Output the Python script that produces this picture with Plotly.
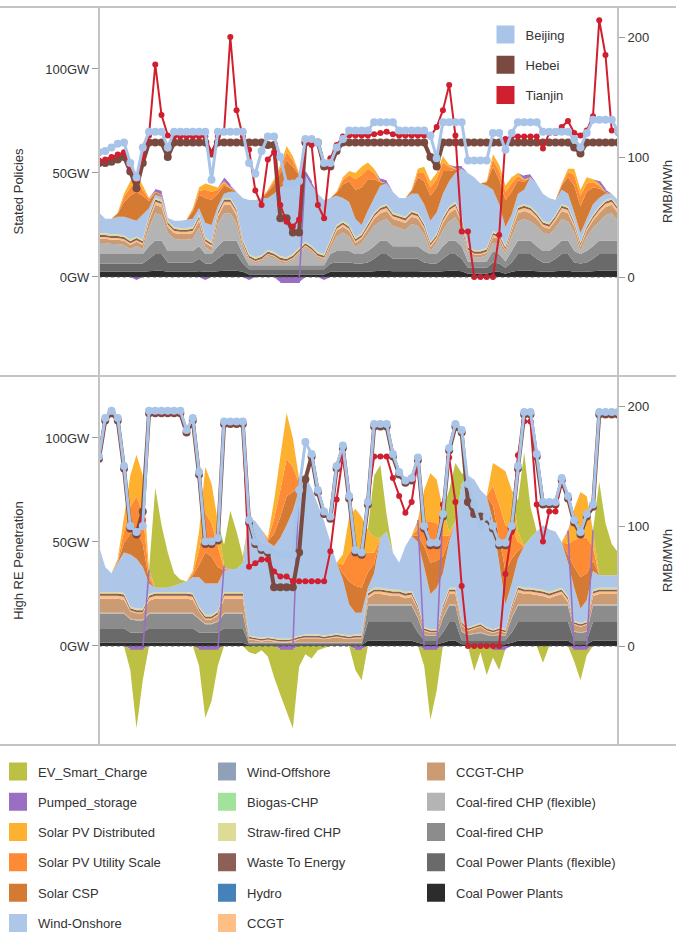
import numpy as np
import plotly.graph_objects as go
from plotly.subplots import make_subplots

# one week, two-hour steps
hours = list(range(0, 168, 2))

# ---------------- Stated Policies: dispatch (GW) ----------------
sp_coal = [
    2.5, 2.5, 2.5, 2.5, 2.5, 2.5, 2.5, 2.5, 2.8, 3.0, 3.0, 2.5,
    2.5, 2.5, 2.5, 2.5, 2.8, 2.5, 2.5, 2.8, 3.0, 3.0, 3.0, 2.5,
    1.2, 1.2, 1.2, 1.2, 1.2, 1.2, 1.2, 1.2, 1.2, 1.2, 1.2, 1.2,
    1.2, 2.5, 2.5, 2.5, 2.5, 2.5, 2.5, 2.5, 2.8, 3.0, 3.0, 2.8,
    2.8, 2.8, 2.8, 2.8, 2.5, 2.5, 2.5, 2.8, 3.0, 3.0, 2.8, 1.5,
    1.5, 1.5, 1.5, 2.5, 2.5, 1.5, 2.5, 3.0, 3.0, 3.0, 2.8, 2.5,
    2.5, 2.8, 3.0, 3.0, 2.5, 2.5, 2.5, 2.8, 3.0, 3.0, 3.0, 3.0]
sp_coal_flex = [
    4.0, 4.0, 4.0, 4.0, 4.0, 4.0, 4.0, 4.0, 6.0, 8.0, 8.0, 4.5,
    4.5, 4.5, 4.5, 4.5, 6.0, 4.0, 4.0, 6.0, 8.0, 8.0, 8.0, 4.0,
    2.5, 2.5, 2.5, 2.5, 2.5, 2.5, 2.5, 2.5, 2.5, 2.5, 2.5, 2.5,
    2.5, 4.0, 4.5, 4.5, 4.5, 4.0, 4.0, 4.5, 6.0, 8.0, 8.0, 6.0,
    6.0, 6.0, 6.0, 6.0, 4.5, 4.0, 4.0, 6.0, 8.0, 8.0, 6.0, 3.0,
    3.0, 3.0, 3.0, 4.5, 4.0, 3.0, 4.5, 8.0, 8.0, 8.0, 6.0, 4.5,
    4.5, 6.0, 8.0, 8.0, 4.5, 4.0, 4.5, 6.0, 8.0, 8.0, 8.0, 8.0]
sp_chp = [
    4.5, 4.5, 4.5, 4.5, 4.5, 4.5, 4.5, 4.5, 6.0, 6.5, 6.5, 5.5,
    5.5, 5.5, 5.5, 5.5, 6.0, 4.5, 4.5, 6.0, 6.5, 6.5, 6.5, 4.5,
    2.0, 2.0, 2.0, 2.0, 2.0, 2.0, 2.0, 2.0, 2.0, 2.0, 2.0, 2.0,
    2.0, 4.5, 5.5, 5.5, 5.5, 4.5, 4.5, 5.5, 6.0, 6.5, 6.5, 6.0,
    6.0, 6.0, 6.0, 6.0, 5.5, 4.5, 4.5, 6.0, 6.5, 6.5, 6.0, 3.0,
    3.0, 3.0, 3.0, 5.5, 4.5, 3.0, 5.5, 6.5, 6.5, 6.5, 6.0, 5.5,
    5.5, 6.0, 6.5, 6.5, 5.5, 4.5, 5.5, 6.0, 6.5, 6.5, 6.5, 6.5]
sp_chp_flex = [
    5.4, 5.4, 4.9, 4.9, 4.4, 2.4, 3.9, 2.4, 8.7, 13.2, 12.2, 8.9,
    5.9, 5.4, 5.4, 5.9, 8.7, 3.4, 1.4, 10.7, 13.2, 13.2, 8.2, 2.4,
    2.3, 0.8, 1.8, 4.3, 3.3, 1.3, 0.8, 2.3, 5.3, 8.3, 6.3, 3.3,
    2.3, 2.4, 6.9, 8.9, 6.9, 3.4, 5.4, 7.9, 9.7, 9.2, 10.2, 9.7,
    8.7, 7.7, 10.7, 9.7, 7.9, 1.4, 5.4, 7.7, 9.2, 11.2, 7.7, 4.0,
    2.0, 2.0, 3.0, 3.9, 5.4, 4.0, 6.9, 9.2, 10.2, 9.2, 9.7, 8.9,
    7.9, 8.7, 10.2, 9.2, 8.9, 1.4, 6.9, 8.7, 9.2, 12.2, 13.2, 9.2]
sp_ccgt_chp = [
    2.0, 2.0, 2.0, 2.0, 2.0, 2.0, 2.0, 2.0, 3.5, 4.0, 4.0, 2.8,
    2.8, 2.8, 2.8, 2.8, 3.5, 2.0, 2.0, 3.5, 4.0, 4.0, 4.0, 2.0,
    0.8, 0.8, 0.8, 0.8, 0.8, 0.8, 0.8, 0.8, 0.8, 0.8, 0.8, 0.8,
    0.8, 2.0, 2.8, 2.8, 2.8, 2.0, 2.0, 2.8, 3.5, 4.0, 4.0, 3.5,
    3.5, 3.5, 3.5, 3.5, 2.8, 2.0, 2.0, 3.5, 4.0, 4.0, 3.5, 1.2,
    1.2, 1.2, 1.2, 2.8, 2.0, 1.2, 2.8, 4.0, 4.0, 4.0, 3.5, 2.8,
    2.8, 3.5, 4.0, 4.0, 2.8, 2.0, 2.8, 3.5, 4.0, 4.0, 4.0, 4.0]
sp_ccgt = [
    0.8, 0.8, 0.8, 0.8, 0.8, 0.8, 0.8, 0.8, 1.2, 1.5, 1.5, 1.0,
    1.0, 1.0, 1.0, 1.0, 1.2, 0.8, 0.8, 1.2, 1.5, 1.5, 1.5, 0.8,
    0.4, 0.4, 0.4, 0.4, 0.4, 0.4, 0.4, 0.4, 0.4, 0.4, 0.4, 0.4,
    0.4, 0.8, 1.0, 1.0, 1.0, 0.8, 0.8, 1.0, 1.2, 1.5, 1.5, 1.2,
    1.2, 1.2, 1.2, 1.2, 1.0, 0.8, 0.8, 1.2, 1.5, 1.5, 1.2, 0.5,
    0.5, 0.5, 0.5, 1.0, 0.8, 0.5, 1.0, 1.5, 1.5, 1.5, 1.2, 1.0,
    1.0, 1.2, 1.5, 1.5, 1.0, 0.8, 1.0, 1.2, 1.5, 1.5, 1.5, 1.5]
sp_waste = [
    1.0, 1.0, 1.0, 1.0, 1.0, 1.0, 1.0, 1.0, 1.0, 1.0, 1.0, 1.0,
    1.0, 1.0, 1.0, 1.0, 1.0, 1.0, 1.0, 1.0, 1.0, 1.0, 1.0, 1.0,
    1.0, 1.0, 1.0, 1.0, 1.0, 1.0, 1.0, 1.0, 1.0, 1.0, 1.0, 1.0,
    1.0, 1.0, 1.0, 1.0, 1.0, 1.0, 1.0, 1.0, 1.0, 1.0, 1.0, 1.0,
    1.0, 1.0, 1.0, 1.0, 1.0, 1.0, 1.0, 1.0, 1.0, 1.0, 1.0, 1.0,
    1.0, 1.0, 1.0, 1.0, 1.0, 1.0, 1.0, 1.0, 1.0, 1.0, 1.0, 1.0,
    1.0, 1.0, 1.0, 1.0, 1.0, 1.0, 1.0, 1.0, 1.0, 1.0, 1.0, 1.0]
sp_straw = [
    0.8, 0.8, 0.8, 0.8, 0.8, 0.8, 0.8, 0.8, 0.8, 0.8, 0.8, 0.8,
    0.8, 0.8, 0.8, 0.8, 0.8, 0.8, 0.8, 0.8, 0.8, 0.8, 0.8, 0.8,
    0.8, 0.8, 0.8, 0.8, 0.8, 0.8, 0.8, 0.8, 0.8, 0.8, 0.8, 0.8,
    0.8, 0.8, 0.8, 0.8, 0.8, 0.8, 0.8, 0.8, 0.8, 0.8, 0.8, 0.8,
    0.8, 0.8, 0.8, 0.8, 0.8, 0.8, 0.8, 0.8, 0.8, 0.8, 0.8, 0.8,
    0.8, 0.8, 0.8, 0.8, 0.8, 0.8, 0.8, 0.8, 0.8, 0.8, 0.8, 0.8,
    0.8, 0.8, 0.8, 0.8, 0.8, 0.8, 0.8, 0.8, 0.8, 0.8, 0.8, 0.8]
sp_wind_on = [
    10, 7, 7.5, 8.5, 9, 10, 7.5, 12, 3, 1.5, 1.5, 1.5,
    3, 3.5, 4, 4, 3, 7, 8, 2, 2, 3, 8, 20,
    26, 27.5, 27.5, 25, 28, 33, 35.5, 33, 32, 32, 29, 28,
    26, 20, 14, 11, 11, 9, 4, 6, 7, 10, 10, 10,
    8, 9, 8, 9, 9, 10, 10, 11, 12, 14, 23, 35,
    35, 32, 30, 20, 14, 9, 5, 6, 7, 14, 14, 13,
    12, 7, 7, 6, 4, 4, 3, 5, 4, 3, 2, 3]
sp_csp = [
    0, 0, 0, 1.5, 7, 11, 14, 9, 3.5, 1.2, 0.8, 0,
    0, 0, 0, 3.5, 6.5, 12, 12, 6, 4, 1.5, 0, 0,
    0, 0, 0, 3, 4.5, 7, 11, 9, 3, 0, 0, 0,
    0, 0, 1.5, 6.5, 10, 14, 18, 15, 9, 1.5, 0, 0,
    0, 0, 1.5, 8, 11, 12, 12, 11, 5, 1.5, 0, 0,
    0, 0, 1.5, 11, 12, 13, 11, 6.5, 3.5, 0, 0, 0,
    0, 0, 2, 8, 13, 13, 13, 8, 4.5, 0.8, 0, 0]
sp_pv_util = [
    0, 0, 0, 0.3, 2.5, 4, 5, 3, 1, 0.2, 0.1, 0,
    0, 0, 0, 1, 2, 4, 4, 2, 1.2, 0.3, 0, 0,
    0, 0, 0, 0.6, 1.5, 2.5, 4, 3, 0.6, 0, 0, 0,
    0, 0, 0.3, 2, 3, 5, 6, 5, 3, 0.3, 0, 0,
    0, 0, 0.3, 2.5, 4, 4, 4, 4, 2, 0.3, 0, 0,
    0, 0, 0.3, 3.5, 4, 4, 4, 2, 1, 0, 0, 0,
    0, 0, 0.6, 2.5, 5, 5, 4, 2.5, 1.5, 0.1, 0, 0]
sp_pv_dist = [
    0, 0, 0, 0.2, 1.5, 3, 4, 2, 0.5, 0.1, 0.1, 0,
    0, 0, 0, 0.5, 1.5, 3, 3, 1, 0.8, 0.2, 0, 0,
    0, 0, 0, 0.4, 1, 1.5, 3, 2, 0.4, 0, 0, 0,
    0, 0, 0.2, 1.5, 2, 3, 4, 3, 2, 0.2, 0, 0,
    0, 0, 0.2, 1.5, 3, 3, 3, 3, 1, 0.2, 0, 0,
    0, 0, 0.2, 2.5, 3, 3, 3, 1.5, 0.5, 0, 0, 0,
    0, 0, 0.4, 1.5, 3, 3, 3, 1.5, 1, 0.1, 0, 0]
sp_pumped = [
    0, 0, 0, 0, 0, 0, -1.5, 0, 0, 1, 1.5, 0,
    0, 0, 0, 0, 0, -1.5, 0, 0, 1.5, 1, 0, 0,
    -1.5, 0, 0, 0, 0, -2.5, -2.5, -2.5, -2.5, 1.5, 1.5, 0,
    -1.5, 0, 0, 0, 0, 0, 0, 0, 0, 1, 1, 0,
    0, 0, 0, 0, 0, 0, 0, 0, 0, 1, 1, 0,
    0, 0, 0, 0, 0, 0, 0, 0, 1.5, 1, 0, 0,
    0, 0, 0, 0, 0, 0, 0, 0, 1, 1, 0, 0]

# ---------------- High RE Penetration: dispatch (GW) ----------------
re_coal = [
    1.5, 1.5, 1.5, 1.5, 1.5, 1.5, 1.5, 1.5, 1.5, 1.5, 1.5, 1.5,
    1.5, 1.5, 1.5, 1.5, 1.5, 1.5, 1.5, 1.5, 1.5, 1.5, 1.5, 1.5,
    0.4, 0.4, 0.4, 0.4, 0.4, 0.4, 0.4, 0.4, 0.4, 0.4, 0.4, 0.4,
    0.4, 0.4, 0.4, 0.4, 0.4, 0.4, 0.4, 2.5, 2.5, 2.5, 2.5, 2.5,
    2.5, 2.5, 2.5, 1.5, 0.8, 0.8, 0.8, 1.5, 2.5, 2.5, 0.8, 0.8,
    0.8, 0.8, 0.8, 0.8, 0.8, 0.8, 1.5, 2.5, 2.5, 2.5, 2.5, 2.5,
    2.5, 2.5, 2.5, 2.5, 0.8, 0.8, 0.8, 2.5, 2.5, 2.5, 2.5, 2.5]
re_coal_flex = [
    7, 7, 7, 7, 7, 5, 5, 5, 7, 7, 7, 7,
    7, 7, 7, 7, 5, 5, 5, 5, 7, 7, 7, 7,
    0.5, 0.5, 0.5, 0.5, 0.5, 0.5, 0.5, 0.5, 0.5, 0.5, 0.5, 0.5,
    0.5, 0.5, 0.5, 0.5, 0.5, 0.5, 0.5, 9, 9, 9, 9, 9,
    9, 9, 9, 5, 2, 2, 2, 5, 9, 9, 2, 2,
    2, 2, 2, 2, 2, 2, 5, 9, 9, 9, 9, 9,
    9, 9, 9, 9, 2, 2, 2, 9, 9, 9, 9, 9]
re_chp = [
    7, 7, 7, 7, 7, 6.4, 5.8, 5.8, 7, 7, 7, 7,
    7, 7, 7, 7, 6.4, 4, 4, 5.2, 7, 7, 7, 7,
    0.6, 0.6, 0.6, 0.6, 0.6, 0.6, 0.6, 0.6, 0.6, 0.6, 0.6, 0.6,
    0.6, 0.6, 0.6, 0.6, 0.6, 0.6, 0.6, 8, 8, 8, 8, 8,
    8, 8, 8, 7, 2.5, 2, 2, 7, 8, 8, 4, 2.5,
    3, 3.5, 2.5, 2, 2.5, 2, 7, 8, 8, 8, 8, 8,
    8, 8, 8, 8, 4, 3.5, 4, 8, 8, 8, 8, 8]
re_chp_flex = [
    0.5, 0.5, 0.5, 0.5, 0.5, 0.3, 0.3, 0.3, 0.5, 0.5, 0.5, 0.5,
    0.5, 0.5, 0.5, 0.5, 0.3, 0.3, 0.3, 0.3, 0.5, 0.5, 0.5, 0.5,
    0.2, 0.2, 0.2, 0.2, 0.2, 0.2, 0.2, 0.2, 0.2, 0.2, 0.2, 0.2,
    0.2, 0.2, 0.2, 0.2, 0.2, 0.2, 0.2, 0.5, 0.5, 0.5, 0.5, 0.5,
    0.5, 0.5, 0.5, 0.3, 0.3, 0.3, 0.3, 0.3, 0.5, 0.5, 0.3, 0.3,
    0.3, 0.3, 0.3, 0.3, 0.3, 0.3, 0.3, 0.5, 0.5, 0.5, 0.5, 0.5,
    0.5, 0.5, 0.5, 0.5, 0.3, 0.3, 0.3, 0.5, 0.5, 0.5, 0.5, 0.5]
re_ccgt_chp = [
    6.7, 6.7, 6.7, 6.7, 6.2, 3.5, 3.1, 3.1, 5.7, 6.7, 6.7, 6.7,
    6.7, 6.7, 6.7, 6.2, 3.5, 1.9, 1.9, 2.7, 6.7, 6.7, 6.7, 6.7,
    1.5, 1.0, 0.5, 1.0, 0.5, 0.0, 0.0, 0.5, 1.5, 2.0, 2.0, 2.0,
    1.5, 2.0, 2.5, 2.0, 1.5, 2.0, 2.0, 3.0, 5.0, 5.0, 4.5, 4.0,
    4.0, 3.0, 3.5, 3.9, 1.6, 1.1, 1.1, 3.9, 5.0, 5.0, 3.1, 1.6,
    2.1, 2.6, 1.6, 1.1, 1.6, 1.1, 3.9, 6.0, 5.0, 5.0, 4.5, 4.0,
    3.0, 4.0, 5.0, 1.0, 3.1, 2.6, 3.1, 4.0, 5.0, 5.0, 5.0, 5.0]
re_ccgt = [
    1.5, 1.5, 1.5, 1.5, 1.5, 0.5, 0.5, 0.5, 1.5, 1.5, 1.5, 1.5,
    1.5, 1.5, 1.5, 1.5, 0.5, 0.5, 0.5, 0.5, 1.5, 1.5, 1.5, 1.5,
    0.4, 0.4, 0.4, 0.4, 0.4, 0.4, 0.4, 0.4, 0.4, 0.4, 0.4, 0.4,
    0.4, 0.4, 0.4, 0.4, 0.4, 0.4, 0.4, 1.2, 1.2, 1.2, 1.2, 1.2,
    1.2, 1.2, 1.2, 0.5, 0.4, 0.4, 0.4, 0.5, 1.2, 1.2, 0.4, 0.4,
    0.4, 0.4, 0.4, 0.4, 0.4, 0.4, 0.5, 1.2, 1.2, 1.2, 1.2, 1.2,
    1.2, 1.2, 1.2, 1.2, 0.4, 0.4, 0.4, 1.2, 1.2, 1.2, 1.2, 1.2]
re_waste = [
    1.0, 1.0, 1.0, 1.0, 1.0, 1.0, 1.0, 1.0, 1.0, 1.0, 1.0, 1.0,
    1.0, 1.0, 1.0, 1.0, 1.0, 1.0, 1.0, 1.0, 1.0, 1.0, 1.0, 1.0,
    0.8, 0.8, 0.8, 0.8, 0.8, 0.8, 0.8, 0.8, 0.8, 0.8, 0.8, 0.8,
    0.8, 0.8, 0.8, 0.8, 0.8, 0.8, 0.8, 1.0, 1.0, 1.0, 1.0, 1.0,
    1.0, 1.0, 1.0, 1.0, 0.8, 0.8, 0.8, 1.0, 1.0, 1.0, 0.8, 0.8,
    0.8, 0.8, 0.8, 0.8, 0.8, 0.8, 1.0, 1.0, 1.0, 1.0, 1.0, 1.0,
    1.0, 1.0, 1.0, 1.0, 0.8, 0.8, 0.8, 1.0, 1.0, 1.0, 1.0, 1.0]
re_straw = [
    0.8, 0.8, 0.8, 0.8, 0.8, 0.8, 0.8, 0.8, 0.8, 0.8, 0.8, 0.8,
    0.8, 0.8, 0.8, 0.8, 0.8, 0.8, 0.8, 0.8, 0.8, 0.8, 0.8, 0.8,
    0.6, 0.6, 0.6, 0.6, 0.6, 0.6, 0.6, 0.6, 0.6, 0.6, 0.6, 0.6,
    0.6, 0.6, 0.6, 0.6, 0.6, 0.6, 0.6, 0.8, 0.8, 0.8, 0.8, 0.8,
    0.8, 0.8, 0.8, 0.8, 0.6, 0.6, 0.6, 0.8, 0.8, 0.8, 0.6, 0.6,
    0.6, 0.6, 0.6, 0.6, 0.6, 0.6, 0.8, 0.8, 0.8, 0.8, 0.8, 0.8,
    0.8, 0.8, 0.8, 0.8, 0.6, 0.6, 0.6, 0.8, 0.8, 0.8, 0.8, 0.8]
re_wind_on = [
    22, 12, 9, 14, 19.5, 25, 24, 20, 5, 2, 2, 2,
    3, 4, 5, 7.5, 14, 15, 15, 13, 10, 11, 11, 14,
    57, 55.5, 52, 45.5, 44, 48.5, 54.5, 61, 70, 76.5, 70.5, 62.5,
    55, 44.5, 34, 26.5, 15, 10.5, 10.5, 2, 7, 24, 27.5, 18,
    13, 22, 26.5, 30, 29, 17, 20, 15, 22, 32, 66, 73,
    70, 64, 63, 52, 31, 12, 10, 13, 20, 24, 27.5, 31,
    30, 28, 22, 16, 16, 7, 10, 9, 6, 6, 6, 6]
re_csp = [
    0, 0, 0, 0.5, 4.5, 10, 13, 11, 1.6, 0, 0, 0,
    0, 0, 0, 0.8, 6, 15, 13, 8, 0.5, 0, 0, 0,
    0, 0, 0, 0.5, 6, 10, 14, 9, 1.5, 0, 0, 0,
    0, 0, 0, 3, 11, 13, 12, 7.5, 4.5, 0, 0, 0,
    0, 0, 0, 3, 10, 15, 13, 8, 1.5, 0, 0, 0,
    0, 0, 0, 7.5, 12, 16, 12, 3.5, 0, 0, 0, 0,
    0, 0, 0, 4, 10, 15, 13, 5, 0, 0, 0, 0]
re_pv_util = [
    0, 0, 0, 0.7, 5.5, 13, 17, 15, 2, 0, 0, 0,
    0, 0, 0, 1, 7, 19, 16, 10, 0.7, 0, 0, 0,
    0, 0, 0, 0.7, 7, 13, 18, 12, 1.5, 0, 0, 0,
    0, 0, 0, 4, 14, 17, 16, 9.5, 5.5, 0, 0, 0,
    0, 0, 0, 3, 12, 20, 18, 10, 1.5, 0, 0, 0,
    0, 0, 0, 9.5, 16, 22, 15, 4.5, 0, 0, 0, 0,
    0, 0, 0, 5, 13, 19, 17, 6.5, 0, 0, 0, 0]
re_pv_dist = [
    0, 0, 0, 0.8, 7, 15, 20, 18, 2.4, 0, 0, 0,
    0, 0, 0, 1.2, 9, 22, 19, 12, 0.8, 0, 0, 0,
    0, 0, 0, 0.8, 9, 16, 22, 14, 2, 0, 0, 0,
    0, 0, 0, 5, 17, 20, 18, 11, 7, 0, 0, 0,
    0, 0, 0, 4, 15, 23, 21, 12, 2, 0, 0, 0,
    0, 0, 0, 11, 18, 26, 18, 5, 0, 0, 0, 0,
    0, 0, 0, 6, 15, 22, 20, 7.5, 0, 0, 0, 0]
re_pumped = [
    0, 0, 0, 0, 0, -1.5, -1.5, -1.5, 0.5, 0, 0, 0,
    0, 0, 0, 0, -1.5, -1.5, -1.5, -1.5, 0.5, 0, 0, 0,
    0, 0, 0, 0, 0, -1.5, -1.5, -1.5, 0.5, 0, 0, 0,
    0, 0, 0, 0, 0, -1.5, -1.5, 0, 0, 0, 0, 0,
    0, 0, 0, 0.5, -1.5, -1.5, -1.5, 0.5, 0, 0, 0, 0,
    0, 0, 0, -1.5, -1.5, -1.5, 0, 0, 0, 0, 0, 0,
    0, 0, 0, 0.5, -1.5, -1.5, -1.5, 0.5, 0, 0, 0, 0]
re_ev = [
    0, 0, 0, 0, 0, -10, -38, -15, 0, 48, 30, 17,
    6, 2, 0, 0, -8, -33, -25, -8, 10, 28, 18, 3,
    -3, -4, -2, -5, -15, -22, -30, -38, -10, -4, -6, -2,
    -1, 0, 0, 0, 0, -10, -15, 0, 30, 35, 8, 0,
    0, 0, 0, 0, -8, -34, -20, 0, 20, 28, 5, 0,
    -12, -3, -14, -4, -10, 0, 0, 15, 45, 15, 0, -8,
    0, 0, 0, 0, -6, -15, -3, 0, 45, 25, 15, 11]

# ---------------- prices (RMB/MWh) ----------------
sp_beijing = [
    104, 105, 108, 111, 112, 95, 83, 108, 121, 121, 121, 108,
    121, 121, 121, 121, 121, 121, 81, 121, 121, 121, 121, 121,
    95, 86, 105, 117, 117, 100, 78, 78, 80, 115, 115, 112,
    95, 95, 108, 115, 122, 122, 122, 122, 129, 129, 129, 129,
    122, 122, 122, 122, 122, 118, 99, 129, 129, 129, 129, 97,
    97, 97, 97, 120, 120, 106, 120, 129, 129, 129, 129, 121,
    121, 121, 121, 121, 115, 108, 120, 131, 131, 131, 131, 121]
sp_hebei = [
    95, 95, 96, 98, 100, 88, 74, 95, 112, 112, 112, 100,
    112, 112, 112, 112, 112, 112, 103, 112, 112, 112, 112, 112,
    112, 112, 112, 110, 110, 49, 49, 37, 37, 112, 112, 112,
    92, 92, 105, 112, 112, 112, 112, 112, 112, 112, 112, 112,
    112, 112, 112, 112, 112, 100, 92, 112, 112, 112, 112, 112,
    112, 112, 112, 112, 112, 112, 112, 112, 112, 112, 112, 112,
    112, 112, 112, 112, 108, 103, 112, 112, 112, 112, 112, 112]
sp_tianjin = [
    97, 98, 100, 102, 104, 92, 81, 100, 118, 177, 135, 118,
    117, 117, 117, 117, 117, 117, 103, 117, 121, 200, 139, 117,
    106, 72, 60, 98, 104, 60, 46, 42, 48, 113, 110, 60,
    49, 99, 110, 117, 118, 118, 118, 118, 119, 120, 121, 119,
    118, 118, 118, 118, 118, 117, 125, 139, 160, 118, 38, 38,
    0, 0, 0, 0, 35, 115, 117, 117, 117, 117, 117, 107,
    120, 120, 125, 130, 120, 118, 122, 134, 214, 185, 122, 120]
re_beijing = [
    158, 190, 196, 190, 150, 100, 95, 100, 196, 196, 196, 196,
    196, 196, 180, 190, 145, 87, 87, 90, 187, 187, 187, 187,
    105, 87, 82, 80, 78, 76, 76, 76, 130, 170, 160, 130,
    112, 108, 150, 167, 125, 80, 78, 120, 185, 185, 185, 160,
    145, 138, 140, 157, 100, 86, 86, 110, 165, 185, 180, 135,
    118, 100, 108, 100, 86, 86, 100, 150, 195, 195, 160, 120,
    120, 120, 140, 125, 105, 95, 110, 118, 195, 195, 195, 195]
re_hebei = [
    156, 188, 194, 188, 148, 98, 93, 112, 194, 194, 194, 194,
    194, 194, 178, 188, 143, 85, 85, 88, 185, 185, 185, 185,
    103, 85, 80, 78, 49, 49, 49, 49, 78, 139, 158, 128,
    110, 106, 148, 165, 123, 78, 76, 118, 183, 183, 183, 158,
    143, 136, 138, 155, 98, 84, 84, 108, 163, 183, 178, 120,
    110, 108, 106, 98, 84, 84, 98, 148, 193, 193, 158, 118,
    118, 118, 138, 123, 103, 93, 108, 116, 193, 193, 193, 193]
re_tianjin = [
    157, 189, 195, 189, 149, 99, 94, 105, 195, 195, 195, 195,
    195, 195, 179, 189, 144, 86, 86, 89, 186, 186, 186, 186,
    66, 69, 72, 72, 62, 58, 58, 54, 54, 54, 54, 54,
    54, 79, 122, 158, 124, 79, 77, 121, 158, 158, 158, 140,
    125, 111, 120, 156, 99, 85, 85, 118, 157, 120, 50, 0,
    0, 0, 0, 0, 0, 60, 95, 159, 187, 187, 118, 87,
    112, 112, 139, 124, 104, 94, 109, 117, 194, 194, 194, 194]

COLORS = {
    "EV_Smart_Charge": "#bcc043",
    "Pumped_storage": "#9a6fc3",
    "Solar PV Distributed": "#fdb12e",
    "Solar PV Utility Scale": "#fd8a35",
    "Solar CSP": "#d57a33",
    "Wind-Onshore": "#aec7e8",
    "Wind-Offshore": "#8fa1b8",
    "Biogas-CHP": "#a2e29a",
    "Straw-fired CHP": "#dcdc96",
    "Waste To Energy": "#8d6057",
    "Hydro": "#4682b9",
    "CCGT": "#fdbf86",
    "CCGT-CHP": "#cb9b73",
    "Coal-fired CHP (flexible)": "#b4b4b4",
    "Coal-fired CHP": "#8c8c8c",
    "Coal Power Plants (flexible)": "#6a6a6a",
    "Coal Power Plants": "#2c2c2c",
}
PRICE_STYLE = {
    "Beijing": dict(color="#a8c4e8", width=3, size=8),
    "Hebei": dict(color="#7a4a40", width=4, size=8),
    "Tianjin": dict(color="#d01f2e", width=2, size=6),
}
FONT = "Liberation Sans, Arial, sans-serif"

fig = make_subplots(rows=2, cols=1, vertical_spacing=0,
                    specs=[[{"secondary_y": True}], [{"secondary_y": True}]])


def draw_panel(row, layers, pumped, ev, prices):
    n = len(hours)
    pumped = np.asarray(pumped, float)
    ev = np.asarray(ev, float)
    top = np.zeros(n)
    # positive generation, stacked bottom-up
    for name, vals in layers + [("Pumped_storage", np.clip(pumped, 0, None))]:
        vals = np.asarray(vals, float)
        assert len(vals) == n, name
        top = top + vals
        fig.add_trace(go.Scatter(x=hours, y=vals, stackgroup=f"up{row}", mode="none",
                                 fillcolor=COLORS[name], showlegend=False, hoverinfo="skip"),
                      row=row, col=1, secondary_y=False)
    ev_up = np.clip(ev, 0, None)
    if ev_up.any():
        fig.add_trace(go.Scatter(x=hours, y=ev_up, stackgroup=f"up{row}", mode="none",
                                 fillcolor=COLORS["EV_Smart_Charge"], showlegend=False,
                                 hoverinfo="skip"),
                      row=row, col=1, secondary_y=False)
    # storage charging below zero
    for name, vals in [("Pumped_storage", np.clip(pumped, None, 0)),
                       ("EV_Smart_Charge", np.clip(ev, None, 0))]:
        if vals.any():
            fig.add_trace(go.Scatter(x=hours, y=vals, stackgroup=f"down{row}", mode="none",
                                     fillcolor=COLORS[name], showlegend=False,
                                     hoverinfo="skip"),
                          row=row, col=1, secondary_y=False)
    # pumped storage outline
    outline = np.where(pumped > 0, top, np.where(pumped < 0, pumped, np.nan))
    fig.add_trace(go.Scatter(x=hours, y=outline, mode="lines", connectgaps=False,
                             line=dict(color=COLORS["Pumped_storage"], width=1.5),
                             showlegend=False, hoverinfo="skip"),
                  row=row, col=1, secondary_y=False)
    # regional prices
    for city in ["Hebei", "Tianjin", "Beijing"]:
        st = PRICE_STYLE[city]
        assert len(prices[city]) == n, city
        fig.add_trace(go.Scatter(x=hours, y=prices[city], mode="lines+markers",
                                 line=dict(color=st["color"], width=st["width"]),
                                 marker=dict(color=st["color"], size=st["size"]),
                                 showlegend=False, hoverinfo="skip"),
                      row=row, col=1, secondary_y=True)


draw_panel(1,
           [("Coal Power Plants", sp_coal), ("Coal Power Plants (flexible)", sp_coal_flex),
            ("Coal-fired CHP", sp_chp), ("Coal-fired CHP (flexible)", sp_chp_flex),
            ("CCGT-CHP", sp_ccgt_chp), ("CCGT", sp_ccgt), ("Waste To Energy", sp_waste),
            ("Straw-fired CHP", sp_straw), ("Wind-Onshore", sp_wind_on), ("Solar CSP", sp_csp),
            ("Solar PV Utility Scale", sp_pv_util), ("Solar PV Distributed", sp_pv_dist)],
           sp_pumped, np.zeros(len(hours)),
           {"Beijing": sp_beijing, "Hebei": sp_hebei, "Tianjin": sp_tianjin})

draw_panel(2,
           [("Coal Power Plants", re_coal), ("Coal Power Plants (flexible)", re_coal_flex),
            ("Coal-fired CHP", re_chp), ("Coal-fired CHP (flexible)", re_chp_flex),
            ("CCGT-CHP", re_ccgt_chp), ("CCGT", re_ccgt), ("Waste To Energy", re_waste),
            ("Straw-fired CHP", re_straw), ("Wind-Onshore", re_wind_on), ("Solar CSP", re_csp),
            ("Solar PV Utility Scale", re_pv_util), ("Solar PV Distributed", re_pv_dist)],
           re_pumped, re_ev,
           {"Beijing": re_beijing, "Hebei": re_hebei, "Tianjin": re_tianjin})

# ---------------- legends ----------------
def legend_entry(name, color, legend):
    fig.add_trace(go.Scatter(x=[None], y=[None], mode="markers", name=name,
                             legend=legend, legendgroup=name, hoverinfo="skip",
                             marker=dict(symbol="square", size=16, color=color,
                                         line=dict(color=color, width=2))))

for city in ["Beijing", "Hebei", "Tianjin"]:
    legend_entry(city, PRICE_STYLE[city]["color"], "legend")

columns = [
    ["EV_Smart_Charge", "Pumped_storage", "Solar PV Distributed", "Solar PV Utility Scale",
     "Solar CSP", "Wind-Onshore"],
    ["Wind-Offshore", "Biogas-CHP", "Straw-fired CHP", "Waste To Energy", "Hydro", "CCGT"],
    ["CCGT-CHP", "Coal-fired CHP (flexible)", "Coal-fired CHP",
     "Coal Power Plants (flexible)", "Coal Power Plants"],
]
for k, col in enumerate(columns):
    for name in col:
        legend_entry(name, COLORS[name], f"legend{k + 2}")

legend_common = dict(xanchor="left", yanchor="top", bgcolor="rgba(0,0,0,0)",
                     font=dict(family=FONT, size=13, color="#333333"),
                     tracegroupgap=10.4, itemclick=False, itemdoubleclick=False)

# ---------------- axes ----------------
fig.update_xaxes(domain=[0, 1], range=[0, 166], showticklabels=False, ticks="",
                 showgrid=False, zeroline=False, showline=False)
for row, title in [(1, "Stated Policies"), (2, "High RE Penetration")]:
    fig.update_yaxes(row=row, col=1, secondary_y=False, range=[-47.6, 129.8],
                     tickvals=[0, 50, 100], ticktext=["0GW", "50GW", "100GW"],
                     ticks="outside", ticklen=6, tickcolor="#9a9a9a", showgrid=False,
                     zeroline=False, showline=False,
                     title=dict(text=title, standoff=18, font=dict(size=13, color="#333333")))
    fig.update_yaxes(row=row, col=1, secondary_y=True, range=[-82.5, 225],
                     tickvals=[0, 100, 200], ticks="outside", ticklen=6, tickcolor="#9a9a9a",
                     showgrid=False, zeroline=False, showline=False,
                     title=dict(text="RMB/MWh", standoff=14, font=dict(size=13, color="#333333")))

# zero reference (dotted) in each panel
for xr, yr in [("x domain", "y"), ("x2 domain", "y3")]:
    fig.add_shape(type="line", xref=xr, x0=0, x1=1, yref=yr, y0=0, y1=0,
                  line=dict(color="#555555", width=1, dash="dot"))

# panel frame
frame = dict(color="#c4c4c4", width=2)
x_left, x_right = -99 / 519, 1 + 58 / 519
for yv in [0, 0.5, 1]:
    fig.add_shape(type="line", xref="paper", yref="paper", x0=x_left, x1=x_right,
                  y0=yv, y1=yv, line=frame)
for xv in [0, 1]:
    fig.add_shape(type="line", xref="paper", yref="paper", x0=xv, x1=xv, y0=0, y1=1,
                  line=frame)

fig.update_layout(
    width=676, height=932,
    margin=dict(l=99, r=58, t=7, b=187, autoexpand=False),
    paper_bgcolor="white", plot_bgcolor="white",
    font=dict(family=FONT, size=13, color="#333333"),
    hovermode=False, showlegend=True,
    legend=dict(x=0.7447, y=0.983, **legend_common),
    legend2=dict(x=-0.1946, y=-0.0156, **legend_common),
    legend3=dict(x=0.2081, y=-0.0156, **legend_common),
    legend4=dict(x=0.6108, y=-0.0156, **legend_common),
)

fig.write_html("out.html")
